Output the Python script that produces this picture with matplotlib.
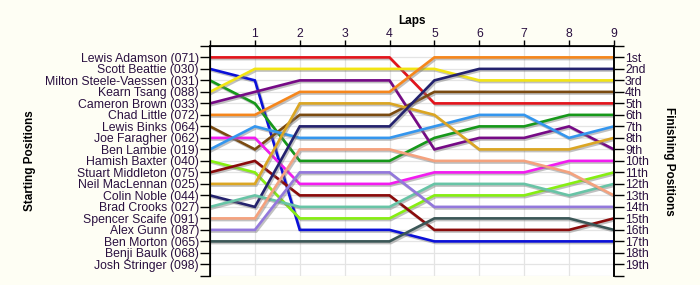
import numpy as np
import matplotlib
matplotlib.use('Agg')
import matplotlib.pyplot as plt
import matplotlib.patheffects as pe

plt.rcParams['font.family'] = ['Liberation Sans', 'DejaVu Sans']

# starting grid (top to bottom)
drivers = ['Lewis Adamson (071)', 'Scott Beattie (030)', 'Milton Steele-Vaessen (031)',
           'Kearn Tsang (088)', 'Cameron Brown (033)', 'Chad Little (072)',
           'Lewis Binks (064)', 'Joe Faragher (062)', 'Ben Lambie (019)',
           'Hamish Baxter (040)', 'Stuart Middleton (075)', 'Neil MacLennan (025)',
           'Colin Noble (044)', 'Brad Crooks (027)', 'Spencer Scaife (091)',
           'Alex Gunn (087)', 'Ben Morton (065)', 'Benji Baulk (068)',
           'Josh Stringer (098)']
finish_labels = ['1st', '2nd', '3rd'] + ['%dth' % i for i in range(4, 20)]
laps = [0, 1, 2, 3, 4, 5, 6, 7, 8, 9]

# position of each driver after each lap (lap 0 = grid)
adamson   = [1, 1, 1, 1, 1, 5, 5, 5, 5, 5]
beattie   = [2, 3, 16, 16, 16, 17, 17, 17, 17, 17]
steele    = [3, 5, 10, 10, 10, 8, 7, 7, 6, 6]
tsang     = [4, 2, 2, 2, 2, 2, 3, 3, 3, 3]
brown     = [5, 4, 3, 3, 3, 9, 8, 8, 7, 9]
little    = [6, 6, 4, 4, 4, 1, 1, 1, 1, 1]
binks     = [7, 9, 6, 6, 6, 4, 4, 4, 4, 4]
faragher  = [8, 8, 12, 12, 12, 11, 11, 11, 10, 10]
lambie    = [9, 7, 8, 8, 8, 7, 6, 6, 8, 7]
baxter    = [10, 11, 15, 15, 15, 13, 13, 13, 12, 11]
middleton = [11, 10, 13, 13, 13, 16, 16, 16, 16, 15]
maclennan = [12, 12, 5, 5, 5, 6, 9, 9, 9, 8]
noble     = [13, 14, 7, 7, 7, 3, 2, 2, 2, 2]
crooks    = [14, 13, 14, 14, 14, 12, 12, 12, 13, 12]
scaife    = [15, 15, 9, 9, 9, 10, 10, 10, 11, 13]
gunn      = [16, 16, 11, 11, 11, 14, 14, 14, 14, 14]
morton    = [17, 17, 17, 17, 17, 15, 15, 15, 15, 16]

series = [adamson, beattie, steele, tsang, brown, little, binks, faragher, lambie,
          baxter, middleton, maclennan, noble, crooks, scaife, gunn, morton]
colors = ['#e3141c', '#0b10d8', '#16981a', '#f2e414', '#760a86', '#f5861c',
          '#7a4a10', '#f21cf0', '#3496ee', '#86ee12', '#8a0b0b', '#dba624',
          '#24226e', '#68c4a6', '#f4a27e', '#9378dc', '#3b5757']

bg = '#fefef4'
txt = '#2a1040'

fig = plt.figure(figsize=(7, 2.85), dpi=100, facecolor=bg)
ax = fig.add_axes([0.3, 0.032, 0.577, 0.807])
ax.set_facecolor('white')

for pos, c in zip(series, colors):
    ax.plot(laps, pos, color=c, lw=1.9, solid_joinstyle='miter',
            path_effects=[pe.SimpleLineShadow(offset=(1, -1.2), shadow_color='#777777', alpha=0.45),
                          pe.Normal()])

ax.set_xlim(0, 9)
ax.set_ylim(20, 0)
ax.set_xticks(laps)
ax.set_xticklabels([''] + [str(l) for l in laps[1:]])
ax.xaxis.tick_top()
ax.xaxis.set_label_position('top')
ax.set_xlabel('Laps', fontsize=8.5, fontweight='bold')
ax.xaxis.set_label_coords(0.5, 1.095)
ax.set_yticks(range(0, 21))
ax.set_yticklabels([''] + drivers + [''])
ax.set_ylabel('Starting Positions', fontsize=8.5, fontweight='bold')
ax.yaxis.set_label_coords(-0.43, 0.5)
ax.grid(True, color='#e4e4e4', lw=0.9)
ax.set_axisbelow(True)
ax.tick_params(axis='y', length=7, width=1, colors='black', labelsize=8.8, pad=1,
               labelcolor=txt, direction='out')
ax.tick_params(axis='x', length=4, width=1, colors='black', labelsize=8.8, pad=0,
               labelcolor=txt, direction='out')
ax.spines['bottom'].set_visible(False)
for s in ['left', 'top', 'right']:
    ax.spines[s].set_linewidth(1.2)

ax2 = ax.twinx()
ax2.set_ylim(20, 0)
ax2.set_yticks(range(0, 21))
ax2.set_yticklabels([''] + finish_labels + [''])
ax2.tick_params(axis='y', length=7, width=1, labelsize=8.8, pad=1, labelcolor=txt)
ax2.set_ylabel('Finishing Positions', fontsize=8.5, fontweight='bold', rotation=-90,
               va='center')
ax2.yaxis.set_label_coords(1.137, 0.5)
ax2.spines['bottom'].set_visible(False)
ax2.spines['right'].set_linewidth(1.2)

fig.savefig('out.png', dpi=100, facecolor=bg)
